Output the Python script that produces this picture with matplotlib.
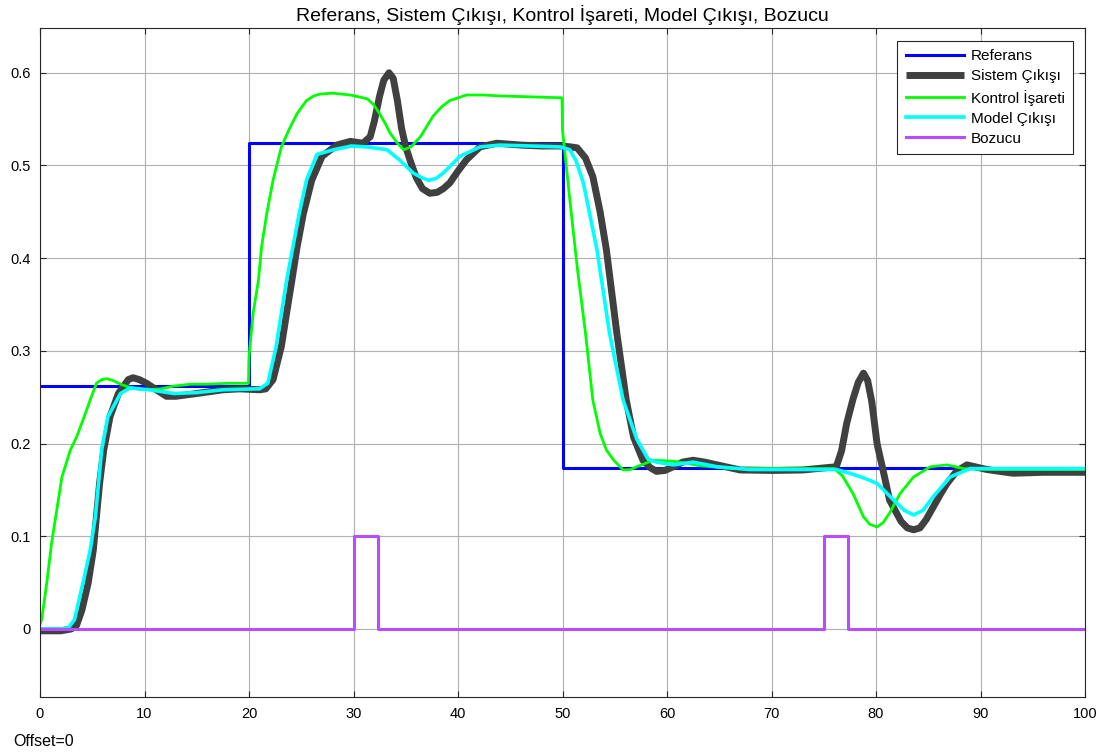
import matplotlib
matplotlib.use("Agg")
import matplotlib.pyplot as plt

plt.rcParams['font.family'] = ['Liberation Sans', 'DejaVu Sans']

# Reference signal: piecewise-constant levels between switching times
ref_times = [0, 20, 50, 100]
ref_levels = [0.262, 0.524, 0.174]

# Disturbance pulses (Bozucu)
dist_times = [0, 30, 32.3, 75, 77.3, 100]
dist_levels = [0, 0.1, 0, 0.1, 0]

# System output (Sistem Çıkışı)
sys_t = [0, 2, 3.0, 3.5, 4.0, 4.6, 5.1, 5.4, 5.7, 6.1, 6.7, 7.5, 8.45, 8.9, 9.5,
         10.2, 11.0, 12.1, 13.0, 15.0, 17.5, 19.1, 21.05, 21.6, 22.3, 23.1,
         23.6, 24.1, 24.6, 25.2, 26.0, 27.0, 28.4, 29.7, 30.9, 31.6, 32.0, 32.5,
         32.9, 33.4, 33.8, 34.2, 34.6, 35.0, 35.4, 36.0, 36.6, 37.3, 38.0, 38.6,
         39.2, 40.0, 40.8, 42.1, 43.7, 46, 48, 50, 50.8, 51.4, 52.2, 52.9, 53.6,
         54.2, 55.2, 56.1, 56.8, 57.7, 58.4, 59.0, 59.8, 60.6, 61.5, 62.5, 63.6,
         64.8, 67.0, 70.2, 73, 76.2, 76.7, 77.2, 77.8, 78.3, 78.8, 79.2, 79.6,
         80.1, 80.7, 81.3, 82.4, 83.0, 83.6, 84.2, 84.8, 85.5, 86.2, 86.8, 87.7,
         88.7, 90.6, 93.1, 96, 100]
sys_v = [-0.002, -0.002, 0.0, 0.004, 0.02, 0.049, 0.085, 0.121, 0.157, 0.193,
         0.229, 0.254, 0.269, 0.271, 0.269, 0.265, 0.259, 0.251, 0.251, 0.254,
         0.258, 0.259, 0.258, 0.259, 0.269, 0.305, 0.341, 0.376, 0.412, 0.448,
         0.484, 0.510, 0.522, 0.526, 0.524, 0.531, 0.548, 0.575, 0.592, 0.600,
         0.594, 0.570, 0.540, 0.520, 0.506, 0.487, 0.475, 0.470, 0.471, 0.475,
         0.481, 0.494, 0.506, 0.520, 0.524, 0.522, 0.521, 0.521, 0.520, 0.519,
         0.508, 0.488, 0.45, 0.409, 0.319, 0.247, 0.207, 0.182, 0.174, 0.170,
         0.171, 0.175, 0.180, 0.182, 0.180, 0.177, 0.1715, 0.171, 0.1715, 0.175,
         0.192, 0.222, 0.248, 0.266, 0.276, 0.268, 0.245, 0.200, 0.170, 0.139,
         0.116, 0.109, 0.107, 0.109, 0.118, 0.132, 0.146, 0.157, 0.170, 0.177,
         0.172, 0.168, 0.169, 0.169]

# Control signal (Kontrol İşareti)
ctrl_t = [0, 0.16, 0.64, 1.1, 1.6, 2.1, 2.9, 3.5, 4.1, 4.8, 5.4, 5.9, 6.4, 7.0,
          7.7, 8.5, 9.25, 10.5, 11.5, 12.8, 14.4, 15.9, 18, 19.95, 20.0, 20.4,
          20.9, 21.2, 21.7, 22.3, 23.1, 23.8, 24.6, 25.5, 26.2, 26.8, 28.0, 29.7,
          31.3, 31.9, 32.5, 33.0, 33.5, 34.2, 34.8, 35.5, 36.4, 37.0, 37.6, 38.4,
          39.2, 40.8, 42.5, 44, 47, 49.95, 50.0, 50.2, 50.7, 51.4, 52.2, 52.9,
          53.6, 54.2, 54.9, 55.8, 56.5, 57.1, 58.7, 60.6, 63.2, 66.3, 72.7, 76.0,
          76.8, 77.8, 78.8, 79.4, 80.1, 80.7, 81.3, 82.3, 83.6, 85.2, 86.8, 88.4,
          91, 100]
ctrl_v = [0.005, 0.01, 0.049, 0.092, 0.128, 0.164, 0.193, 0.207, 0.225, 0.247,
          0.265, 0.269, 0.270, 0.268, 0.264, 0.261, 0.259, 0.258, 0.259, 0.262,
          0.264, 0.264, 0.265, 0.265, 0.294, 0.341, 0.376, 0.412, 0.448, 0.484,
          0.520, 0.538, 0.556, 0.570, 0.575, 0.577, 0.578, 0.576, 0.572, 0.566,
          0.556, 0.546, 0.535, 0.524, 0.517, 0.520, 0.531, 0.542, 0.553, 0.563,
          0.570, 0.576, 0.576, 0.575, 0.574, 0.573, 0.538, 0.517, 0.463, 0.391,
          0.319, 0.247, 0.211, 0.193, 0.182, 0.1715, 0.172, 0.175, 0.182, 0.181,
          0.176, 0.173, 0.173, 0.173, 0.165, 0.146, 0.121, 0.113, 0.110, 0.115,
          0.125, 0.146, 0.164, 0.175, 0.177, 0.173, 0.172, 0.172]

# Model output (Model Çıkışı)
model_t = [0, 2.0, 2.7, 3.3, 4.1, 4.8, 5.3, 5.6, 5.9, 6.5, 7.7, 8.6, 10.5, 12.8,
           15.0, 17.5, 20.7, 21.0, 21.8, 22.6, 23.6, 24.8, 25.5, 26.5, 28.1,
           29.8, 31.3, 33.2, 34.4, 35.7, 36.5, 37.2, 37.9, 38.6, 40.2, 42.1, 44.0,
           47, 49.8, 50.7, 51.3, 52.0, 53.3, 54.5, 55.8, 57.1, 58.2, 59.0, 60.6,
           62.5, 64.8, 67.9, 72.7, 76.2, 77.5, 78.8, 80.1, 81.7, 82.7, 83.6, 84.5,
           85.5, 87.1, 89, 92, 100]
model_v = [0.0, 0.0, 0.001, 0.01, 0.049, 0.085, 0.121, 0.157, 0.193, 0.229,
           0.254, 0.260, 0.258, 0.254, 0.255, 0.258, 0.259, 0.259, 0.265, 0.305,
           0.376, 0.448, 0.484, 0.512, 0.517, 0.521, 0.520, 0.517, 0.506, 0.492,
           0.487, 0.484, 0.486, 0.492, 0.510, 0.520, 0.522, 0.521, 0.520, 0.517,
           0.505, 0.481, 0.409, 0.319, 0.247, 0.205, 0.183, 0.180, 0.177, 0.180,
           0.175, 0.172, 0.172, 0.172, 0.168, 0.163, 0.157, 0.139, 0.128, 0.123,
           0.128, 0.143, 0.164, 0.173, 0.173, 0.173]

W, H = 1101, 755
fig = plt.figure(figsize=(W / 100, H / 100), dpi=100)
ax = fig.add_axes([40 / W, 1 - 697 / H, 1045 / W, 669 / H])

ax.plot(ref_times, ref_levels + ref_levels[-1:], drawstyle='steps-post',
        color='#0000ff', lw=2.2, label='Referans')
ax.plot(sys_t, sys_v, color='#404040', lw=5.0, label='Sistem Çıkışı',
        solid_capstyle='butt', solid_joinstyle='round')
ax.plot(ctrl_t, ctrl_v, color='#00ff00', lw=2.0, label='Kontrol İşareti')
ax.plot(model_t, model_v, color='#00ffff', lw=2.6, label='Model Çıkışı',
        solid_joinstyle='round')
ax.plot(dist_times, dist_levels + dist_levels[-1:], drawstyle='steps-post',
        color='#b84dff', lw=2.2, label='Bozucu')

ax.set_xlim(0, 100)
ax.set_ylim(-0.0734, 0.6483)
ax.set_xticks(range(0, 101, 10))
ax.set_yticks([0, 0.1, 0.2, 0.3, 0.4, 0.5, 0.6])
ax.set_yticklabels(['0', '0.1', '0.2', '0.3', '0.4', '0.5', '0.6'])
ax.tick_params(direction='in', top=True, right=True, length=4, width=0.8,
               labelsize=10.5, pad=7, color='#262626')
ax.grid(True, color='#b0b0b0', lw=0.8)
ax.set_axisbelow(True)
for s in ax.spines.values():
    s.set_linewidth(0.8)
    s.set_color('#262626')

ax.set_title('Referans, Sistem Çıkışı, Kontrol İşareti, Model Çıkışı, Bozucu',
             fontsize=14, pad=5)

leg = ax.legend(loc='upper right', bbox_to_anchor=(0.9885, 0.9806),
                borderaxespad=0, fontsize=11, handlelength=3.8,
                labelspacing=0.4, handletextpad=0.45, fancybox=False,
                framealpha=1, edgecolor='#262626', borderpad=0.55)
leg.get_frame().set_linewidth(0.8)

fig.text(13 / W, 1 - 741 / H, 'Offset=0', fontsize=11.5, va='center', ha='left')

fig.savefig('out.png', dpi=100)
